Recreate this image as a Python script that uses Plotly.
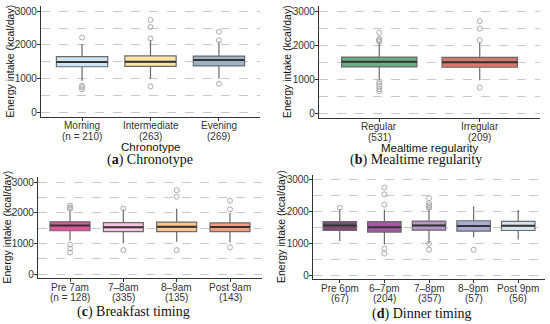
import plotly.graph_objects as go

# ---- data ----
a_cats = ["Morning", "Intermediate", "Evening"]
a_n = ["(n = 210)", "(263)", "(269)"]
a_q1 = [1360, 1370, 1385]
a_med = [1500, 1505, 1560]
a_q3 = [1655, 1680, 1675]
a_lo = [950, 1000, 1005]
a_hi = [2030, 2150, 2100]
a_out = [[2220, 800, 760, 700], [2190, 2530, 2740, 780], [2140, 2390, 860]]
a_col = ["#cfe4f7", "#fde5a5", "#9cb3c3"]

b_cats = ["Regular", "Irregular"]
b_n = ["(531)", "(209)"]
b_q1 = [1385, 1375]
b_med = [1540, 1520]
b_q3 = [1675, 1665]
b_lo = [975, 995]
b_hi = [2105, 2105]
b_out = [[2390, 2210, 2170, 2130, 950, 880, 810, 730, 670], [2170, 2510, 2730, 780]]
b_col = ["#6aae84", "#d9776b"]

c_cats = ["Pre 7am", "7–8am", "8–9am", "Post 9am"]
c_n = ["(n = 128)", "(335)", "(135)", "(143)"]
c_q1 = [1410, 1380, 1380, 1380]
c_med = [1580, 1525, 1540, 1535]
c_q3 = [1700, 1675, 1695, 1665]
c_lo = [1090, 1000, 1050, 1030]
c_hi = [2080, 2100, 2130, 1995]
c_out = [[2230, 2170, 2120, 960, 830, 700], [2130, 780], [2520, 2730, 780], [2110, 2390, 870]]
c_col = ["#e25599", "#f6c5e0", "#fcc690", "#f49f80"]

d_cats = ["Pre 6pm", "6–7pm", "7–8pm", "8–9pm", "Post 9pm"]
d_n = ["(67)", "(204)", "(357)", "(57)", "(56)"]
d_q1 = [1390, 1340, 1400, 1370, 1390]
d_med = [1550, 1495, 1550, 1530, 1540]
d_q3 = [1665, 1665, 1685, 1695, 1675]
d_lo = [1055, 950, 1000, 1180, 1110]
d_hi = [2060, 2050, 2080, 2150, 2030]
d_out = [[2100], [2200, 2520, 2730, 820, 670], [2400, 2250, 2180, 2120, 2090, 980, 790], [790], []]
d_col = ["#7e4e78", "#a35aa3", "#b995c9", "#a8acd4", "#d5e4f1"]

y_ticks = [0, 1000, 2000, 3000]
y_title = "Energy intake (kcal/day)"

H = 324.0
panels = [
    dict(cats=a_cats, ns=a_n, q1=a_q1, med=a_med, q3=a_q3, lo=a_lo, hi=a_hi, out=a_out, col=a_col,
         xl=41, xr=260, ybot=117, ytop=6, yr=[-118, 3147], title="Chronotype",
         cap="(<b>a</b>) Chronotype", capx=150, capy=160),
    dict(cats=b_cats, ns=b_n, q1=b_q1, med=b_med, q3=b_q3, lo=b_lo, hi=b_hi, out=b_out, col=b_col,
         xl=319, xr=540, ybot=118, ytop=6, yr=[-118, 3176], title="Mealtime regularity",
         cap="(<b>b</b>) Mealtime regularity", capx=416, capy=160),
    dict(cats=c_cats, ns=c_n, q1=c_q1, med=c_med, q3=c_q3, lo=c_lo, hi=c_hi, out=c_out, col=c_col,
         xl=38, xr=262, ybot=278, ytop=177, yr=[-130, 3163], title=None,
         cap="(<b>c</b>) Breakfast timing", capx=133, capy=312),
    dict(cats=d_cats, ns=d_n, q1=d_q1, med=d_med, q3=d_q3, lo=d_lo, hi=d_hi, out=d_out, col=d_col,
         xl=313, xr=545, ybot=279, ytop=175, yr=[-125, 3125], title=None,
         cap="(<b>d</b>) Dinner timing", capx=422, capy=314),
]

fig = go.Figure()
W = 0.75
sans = "Liberation Sans, Arial, sans-serif"
tickfont = dict(family=sans, size=10, color="#333333")
annotations = []
for k, p in enumerate(panels):
    sfx = "" if k == 0 else str(k + 1)
    xa, ya = "x" + sfx, "y" + sfx
    n = len(p["cats"])
    xs = list(range(1, n + 1))
    for i in range(n):
        fig.add_trace(go.Box(
            x=[xs[i]], q1=[p["q1"][i]], median=[p["med"][i]], q3=[p["q3"][i]],
            lowerfence=[p["lo"][i]], upperfence=[p["hi"][i]],
            fillcolor=p["col"][i], line=dict(color="#6a6a6a", width=1.2),
            width=W, whiskerwidth=0, boxpoints=False, showlegend=False,
            xaxis=xa, yaxis=ya, hoverinfo="skip"))
        fig.add_trace(go.Scatter(
            x=[xs[i] - W/2, xs[i] + W/2], y=[p["med"][i]] * 2, mode="lines",
            line=dict(color="#333333", width=2), showlegend=False,
            xaxis=xa, yaxis=ya, hoverinfo="skip"))
        if p["out"][i]:
            fig.add_trace(go.Scatter(
                x=[xs[i]] * len(p["out"][i]), y=p["out"][i], mode="markers",
                marker=dict(symbol="circle-open", size=5, color="#ababab", line=dict(width=1)),
                showlegend=False, xaxis=xa, yaxis=ya, hoverinfo="skip"))
        # category label, two lines
        for txt, dy in ((p["cats"][i], 9), (p["ns"][i], 19)):
            annotations.append(dict(text=txt, x=xs[i], xref=xa, y=1 - (p["ybot"] + dy) / H,
                                    yref="paper", xanchor="center", yanchor="middle", showarrow=False,
                                    font=tickfont))
    xaxis = dict(domain=[p["xl"] / 550, p["xr"] / 550], anchor=ya, range=[0.4, n + 0.6],
                 tickvals=xs, showticklabels=False,
                 showline=True, linecolor="#333333", linewidth=1.2,
                 ticks="outside", ticklen=3, tickcolor="#333333",
                 showgrid=False, zeroline=False, automargin=False)
    yaxis = dict(domain=[1 - p["ybot"] / H, 1 - p["ytop"] / H], anchor=xa, range=p["yr"],
                 tickvals=y_ticks, tickfont=dict(family=sans, size=10, color="#333333"),
                 ticklabelstandoff=-2,
                 showline=True, linecolor="#333333", linewidth=1.2,
                 ticks="outside", ticklen=3, tickcolor="#333333",
                 showgrid=True, gridcolor="#c8c8c8", griddash="dash", gridwidth=1,
                 minor=dict(dtick=500, tick0=0, showgrid=True, gridcolor="#c8c8c8", griddash="dash", gridwidth=1, ticks=""),
                 zeroline=False, automargin=False)
    fig.layout["xaxis" + sfx] = xaxis
    fig.layout["yaxis" + sfx] = yaxis
    annotations.append(dict(text=y_title, textangle=-90, x=(p["xl"] - 32) / 550, xref="paper",
                            y=1 - (p["ybot"] + p["ytop"]) / 2 / H, yref="paper",
                            xanchor="center", yanchor="middle", showarrow=False,
                            font=dict(family=sans, size=10.5, color="#111111")))
    if p["title"]:
        annotations.append(dict(text=p["title"], x=(p["xl"] + p["xr"]) / 2 / 550, xref="paper",
                                y=1 - (p["ybot"] + 30) / H, yref="paper",
                                xanchor="center", yanchor="middle", showarrow=False,
                                font=dict(family=sans, size=11.5, color="#111111")))
    annotations.append(dict(text=p["cap"], x=p["capx"] / 550, y=1 - p["capy"] / H, xref="paper", yref="paper",
                            xanchor="center", yanchor="middle", showarrow=False,
                            font=dict(family="Liberation Serif, DejaVu Serif, serif", size=14, color="#111111")))

fig.update_layout(width=550, height=324, margin=dict(l=0, r=0, t=0, b=0),
                  paper_bgcolor="white", plot_bgcolor="white",
                  annotations=annotations)
fig.write_html("out.html", config={"displayModeBar": False},
               post_script="document.body.style.margin='0';document.body.style.overflow='hidden';")
